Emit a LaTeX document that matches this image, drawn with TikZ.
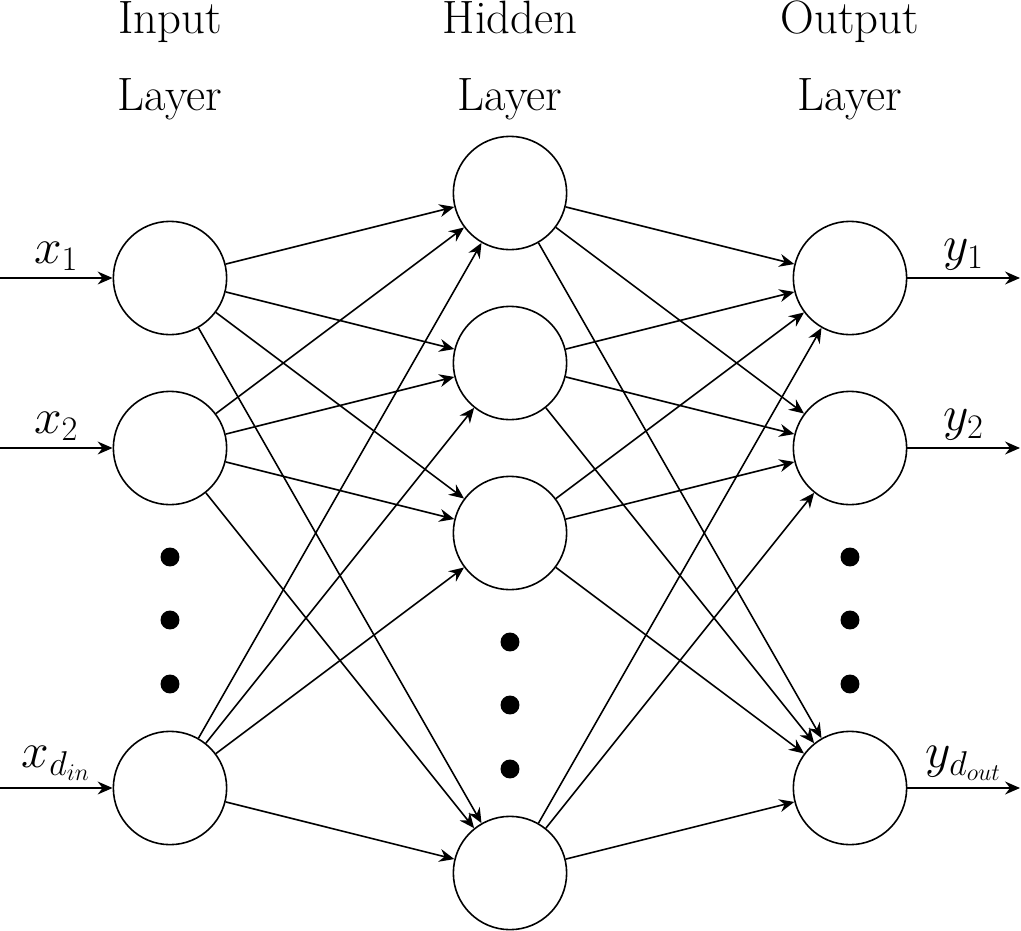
\documentclass[tikz,border=0pt]{standalone}
\usetikzlibrary{arrows.meta}
\begin{document}
\begin{tikzpicture}[x=0.017647cm,y=-0.017647cm,
  neuron/.style={circle,draw,line width=0.8pt,minimum size=2cm,inner sep=0pt},
  conn/.style={-{Stealth[length=7.5pt,width=6.5pt,inset=2.5pt]},line width=0.8pt},
  bigdot/.style={circle,fill,minimum size=0.335cm,inner sep=0pt},
  lbl/.style={anchor=base,inner sep=0pt,outer sep=0pt},
  every node/.append style={font=\fontsize{23.5}{28}\selectfont}]
\useasboundingbox (0,0) rectangle (1021,931);
% layer titles
\node[lbl] (tin1) at (170,33) {Input};
\node[lbl] (tin2) at (170,110) {Layer};
\node[lbl] (thd1) at (510,33) {Hidden};
\node[lbl] (thd2) at (510,110) {Layer};
\node[lbl] (tou1) at (850,33) {Output};
\node[lbl] (tou2) at (850,110) {Layer};
% neurons
\node[neuron] (i1) at (170,278) {};
\node[neuron] (i2) at (170,448) {};
\node[neuron] (i3) at (170,788) {};
\node[neuron] (h1) at (510,193) {};
\node[neuron] (h2) at (510,363) {};
\node[neuron] (h3) at (510,533) {};
\node[neuron] (h4) at (510,873) {};
\node[neuron] (o1) at (850,278) {};
\node[neuron] (o2) at (850,448) {};
\node[neuron] (o3) at (850,788) {};
% dots
\foreach \y [count=\k] in {557,620,684} {
  \node[bigdot] (di\k) at (170,\y) {};
  \node[bigdot] (do\k) at (850,\y) {};
}
\foreach \y [count=\k] in {642,705,769} {
  \node[bigdot] (dh\k) at (510,\y) {};
}
% connections
\foreach \i in {i1,i2,i3} \foreach \h in {h1,h2,h3,h4} \draw[conn] (\i) -- (\h);
\foreach \h in {h1,h2,h3,h4} \foreach \o in {o1,o2,o3} \draw[conn] (\h) -- (\o);
% inputs
\coordinate (a1) at (0,278);
\coordinate (a2) at (0,448);
\coordinate (a3) at (0,788);
\draw[conn] (a1) -- (i1) node[midway,above] {$x_1$};
\draw[conn] (a2) -- (i2) node[midway,above] {$x_2$};
\draw[conn] (a3) -- (i3) node[midway,above] {$x_{d_{in}}$};
% outputs
\coordinate (b1) at (1020,278);
\coordinate (b2) at (1020,448);
\coordinate (b3) at (1020,788);
\draw[conn] (o1) -- (b1) node[midway,above] {$y_1$};
\draw[conn] (o2) -- (b2) node[midway,above] {$y_2$};
\draw[conn] (o3) -- (b3) node[midway,above] {$y_{d_{out}}$};
\end{tikzpicture}
\end{document}
